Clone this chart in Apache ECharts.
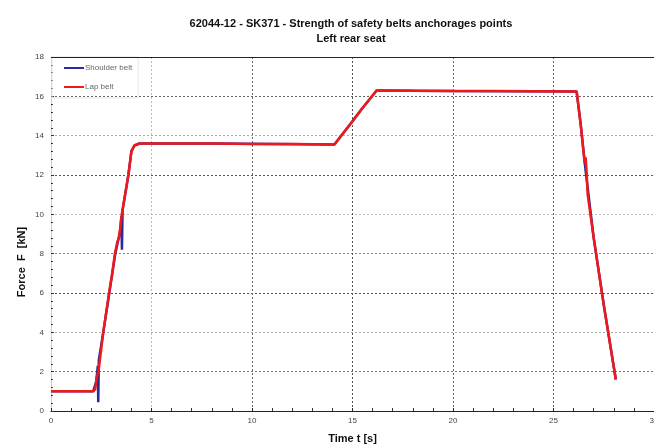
<!DOCTYPE html>
<html><head><meta charset="utf-8">
<script src="https://cdn.jsdelivr.net/npm/echarts@6/dist/echarts.min.js"></script>
<style>html,body{margin:0;padding:0;background:#fff}#c{width:654px;height:448px}</style>
</head><body><div id="c"></div>
<script>
const titleLines = ['62044-12 - SK371 - Strength of safety belts anchorages points', 'Left rear seat'];
const xTitle = 'Time t [s]';
const yTitle = 'Force  F  [kN]';
const seriesNames = ['Shoulder belt', 'Lap belt'];
const xTicks = [0, 5, 10, 15, 20, 25, 30];
const yTicks = [0, 2, 4, 6, 8, 10, 12, 14, 16, 18];

const lapTime  = [0, 1.0, 2.1, 2.2, 2.27, 2.36, 2.6, 2.89, 2.98, 3.02, 3.05, 3.18, 3.3, 3.38, 3.42, 3.52, 3.85, 4.0, 4.15, 4.4, 6, 8, 10, 12, 14.1, 15.0, 15.46, 16.2, 18, 20, 22, 24, 26.15, 26.35, 26.5, 26.55, 26.6, 26.65, 26.7, 27.0, 27.5, 28.1];
const lapForce = [1.0, 1.0, 1.0, 1.1, 1.7, 2.0, 4.0, 6.0, 6.6, 6.8, 6.9, 8.0, 8.6, 8.8, 9.1, 10.0, 12.0, 13.2, 13.5, 13.6, 13.6, 13.6, 13.58, 13.57, 13.55, 14.73, 15.36, 16.3, 16.28, 16.27, 16.27, 16.26, 16.25, 14.6, 13.1, 12.6, 12.9, 12.1, 11.0, 8.8, 5.4, 1.6];

const shoulderTime  = [0, 2.1, 2.25, 2.33, 2.35, 2.38, 2.6, 2.9, 3.2, 3.45, 3.5, 3.53, 3.56, 3.85, 4.0, 4.15, 4.4, 8, 14.1, 15.0, 15.46, 16.2, 20, 26.15, 26.35, 26.6, 27.0, 27.5, 28.1];
const shoulderForce = [1.0, 1.0, 1.5, 2.3, 0.45, 2.6, 4.0, 6.0, 8.0, 9.2, 9.9, 8.2, 10.2, 12.0, 13.2, 13.5, 13.6, 13.6, 13.55, 14.73, 15.36, 16.3, 16.27, 16.25, 14.6, 12.2, 8.8, 5.4, 1.6];

const zip = (a, b) => a.map((v, i) => [v, b[i]]);
const chart = echarts.init(document.getElementById('c'), null, {renderer: 'canvas'});
const FONT = 'Liberation Sans, Arial, sans-serif';
chart.setOption({
  animation: false,
  backgroundColor: '#fff',
  title: {
    text: titleLines.join('\n'), left: 346, top: 11, textAlign: 'center',
    textStyle: {fontFamily: FONT, fontSize: 11, fontWeight: 'bold', color: '#111', lineHeight: 15}
  },
  legend: {
    data: seriesNames, orient: 'vertical', left: 52, top: 57,
    padding: [7, 6, 7, 12], itemGap: 11, itemWidth: 20, itemHeight: 2,
    borderColor: '#e6e6e6', borderWidth: 1,
    icon: 'rect',
    textStyle: {fontFamily: FONT, fontSize: 8, color: '#666', padding: [0, 0, 0, -4]}
  },
  grid: {left: 51, right: 0, top: 57, bottom: 37, containLabel: false, outerBoundsMode: 'none', show: false},
  xAxis: {
    type: 'value', min: 0, max: 30, interval: 5,
    name: xTitle, nameLocation: 'middle', nameGap: 22,
    nameTextStyle: {fontFamily: FONT, fontSize: 11, fontWeight: 'bold', color: '#111'},
    axisLine: {show: true, lineStyle: {color: '#222', width: 1}},
    axisTick: {show: true, length: 3, inside: true, lineStyle: {color: '#222'}},
    minorTick: {show: true, splitNumber: 5, length: 3, lineStyle: {color: '#333'}},
    axisLabel: {fontFamily: FONT, fontSize: 8, color: '#444', margin: 6},
    splitLine: {show: true, lineStyle: {color: ['#999', '#bbb', '#666', '#555', '#666', '#666', '#888'], type: [2, 2], width: 1}}
  },
  yAxis: [{
    type: 'value', min: 0, max: 18, interval: 2,
    axisLine: {show: true, lineStyle: {color: '#ccc', width: 1}},
    axisTick: {show: true, length: 3, inside: true, lineStyle: {color: '#333'}},
    minorTick: {show: true, splitNumber: 5, length: 2, lineStyle: {color: '#333'}},
    axisLabel: {fontFamily: FONT, fontSize: 8, color: '#444', margin: 7},
    splitLine: {show: true, lineStyle: {color: ['#666', '#777', '#aaa', '#555', '#888', '#bbb', '#555', '#aaa', '#666', '#333'], type: [2, 2], width: 1}}
  }],
  graphic: [
    {type: 'line', shape: {x1: 51, y1: 57.5, x2: 654, y2: 57.5}, style: {stroke: '#222', lineWidth: 1}, z: 10},
    {type: 'text', x: 22, y: 262, rotation: Math.PI / 2,
     style: {text: yTitle, fontFamily: FONT, fontSize: 11, fontWeight: 'bold', fill: '#111', textAlign: 'center', textVerticalAlign: 'middle'}}
  ],
  series: [
    {name: seriesNames[0], type: 'line', data: zip(shoulderTime, shoulderForce), showSymbol: false, symbol: 'none',
     lineStyle: {color: '#2a2a9a', width: 2.5}, itemStyle: {color: '#2a2a9a'}, z: 3},
    {name: seriesNames[1], type: 'line', data: zip(lapTime, lapForce), showSymbol: false, symbol: 'none',
     lineStyle: {color: '#f01818', width: 2.5}, itemStyle: {color: '#f01818'}, z: 4}
  ]
});
</script></body></html>
